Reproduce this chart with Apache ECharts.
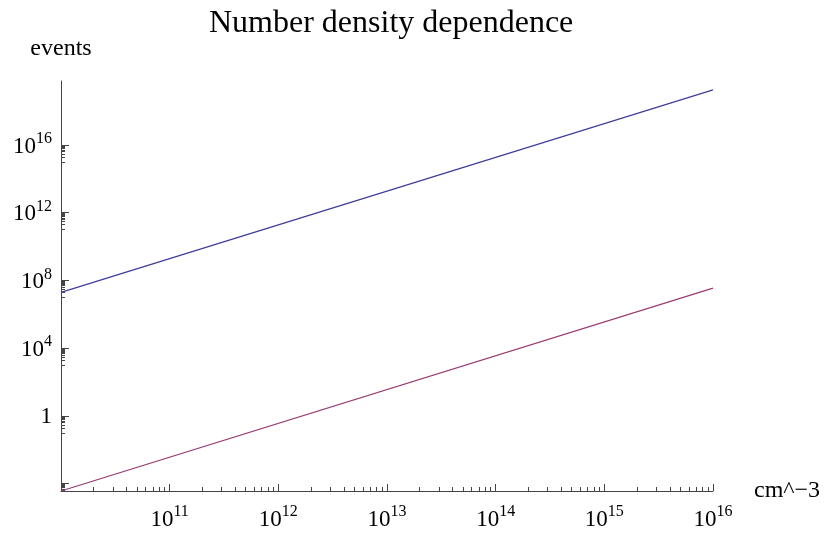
<!DOCTYPE html>
<html>
<head>
<meta charset="utf-8">
<script src="https://cdn.jsdelivr.net/npm/echarts@6/dist/echarts.min.js"></script>
<style>
  html, body { margin: 0; padding: 0; background: #fff; }
  #chart { width: 825px; height: 538px; }
</style>
</head>
<body>
<div id="chart"></div>
<script>
// Number density (cm^-3) against event count, log-log
const densities = [1e10, 1e16];
const eventsUpper = [2.0e7, 1.8e19];
const eventsLower = [3.7e-5, 3.5e7];

// Axis ranges
const xRange = [1e10, 1e16];
const yRange = [3.7e-5, 6.0e19];

// Major tick values and which of them carry labels
const xMajorTicks = [1e11, 1e12, 1e13, 1e14, 1e15, 1e16];
const yMajorTicks = [1e-4, 1, 1e4, 1e8, 1e12, 1e16];
const yLabelTicks = [1, 1e4, 1e8, 1e12, 1e16];

// Minor ticks: 2..9 within each decade on x, the decade just below each major tick on y
const xMinorTicks = [];
for (let d = 10; d < 16; d++) {
  for (let k = 2; k <= 9; k++) xMinorTicks.push(k * Math.pow(10, d));
}
const yMinorTicks = [];
yMajorTicks.forEach(function (v) {
  for (let k = 1; k <= 9; k++) yMinorTicks.push(k * v / 10);
});

const FONT = '"Liberation Serif", "DejaVu Serif", serif';
const AXIS_COLOR = '#444';

function powerLabel(v) {
  const e = Math.round(Math.log10(v));
  if (e === 0) return '{b|1}';
  return '{b|10}{s|' + e + '}';
}
const labelRich = {
  b: { fontFamily: FONT, fontSize: 23, color: '#000', lineHeight: 26, verticalAlign: 'bottom' },
  s: { fontFamily: FONT, fontSize: 16, color: '#000', lineHeight: 16, padding: [0, 0, 11, 0], verticalAlign: 'bottom' }
};

const chart = echarts.init(document.getElementById('chart'), null, { renderer: 'canvas' });
chart.setOption({
  animation: false,
  backgroundColor: '#fff',
  title: {
    text: 'Number density dependence',
    left: 204,
    top: 3,
    textStyle: { fontFamily: FONT, fontSize: 32, fontWeight: 'normal', color: '#000' }
  },
  grid: { left: 61, right: 112, top: 81, bottom: 47, containLabel: false },
  xAxis: [
    {
      type: 'log', logBase: 10, min: xRange[0], max: xRange[1], position: 'bottom',
      name: 'cm^\u22123', nameLocation: 'end', nameGap: 41,
      nameTextStyle: { fontFamily: FONT, fontSize: 24, color: '#000', verticalAlign: 'middle' },
      axisLine: { show: true, onZero: false, lineStyle: { color: AXIS_COLOR, width: 1 } },
      axisTick: { show: true, inside: true, length: 7, customValues: xMajorTicks, lineStyle: { color: AXIS_COLOR } },
      axisLabel: { show: true, margin: 14, customValues: xMajorTicks, formatter: powerLabel, rich: labelRich },
      splitLine: { show: false }, minorTick: { show: false }
    },
    {
      type: 'log', logBase: 10, min: xRange[0], max: xRange[1], position: 'bottom',
      axisLine: { show: false },
      axisTick: { show: true, inside: true, length: 4, customValues: xMinorTicks, lineStyle: { color: AXIS_COLOR } },
      axisLabel: { show: false }, splitLine: { show: false }
    }
  ],
  yAxis: [
    {
      type: 'log', logBase: 10, min: yRange[0], max: yRange[1], position: 'left',
      name: 'events', nameLocation: 'end', nameGap: 20,
      nameTextStyle: { fontFamily: FONT, fontSize: 24, color: '#000', align: 'center' },
      axisLine: { show: true, onZero: false, lineStyle: { color: AXIS_COLOR, width: 1 } },
      axisTick: { show: true, inside: true, length: 8, customValues: yMajorTicks, lineStyle: { color: AXIS_COLOR } },
      axisLabel: { show: true, margin: 9, customValues: yLabelTicks, formatter: powerLabel, rich: labelRich },
      splitLine: { show: false }, minorTick: { show: false }
    },
    {
      type: 'log', logBase: 10, min: yRange[0], max: yRange[1], position: 'left',
      axisLine: { show: false },
      axisTick: { show: true, inside: true, length: 4, customValues: yMinorTicks, lineStyle: { color: AXIS_COLOR } },
      axisLabel: { show: false }, splitLine: { show: false }
    }
  ],
  series: [
    {
      type: 'line', xAxisIndex: 0, yAxisIndex: 0,
      data: densities.map(function (x, i) { return [x, eventsUpper[i]]; }),
      showSymbol: false, lineStyle: { color: '#3f3d99', width: 1.3 }, silent: true
    },
    {
      type: 'line', xAxisIndex: 0, yAxisIndex: 0,
      data: densities.map(function (x, i) { return [x, eventsLower[i]]; }),
      showSymbol: false, lineStyle: { color: '#993d71', width: 1.3 }, silent: true
    }
  ]
});
</script>
</body>
</html>
